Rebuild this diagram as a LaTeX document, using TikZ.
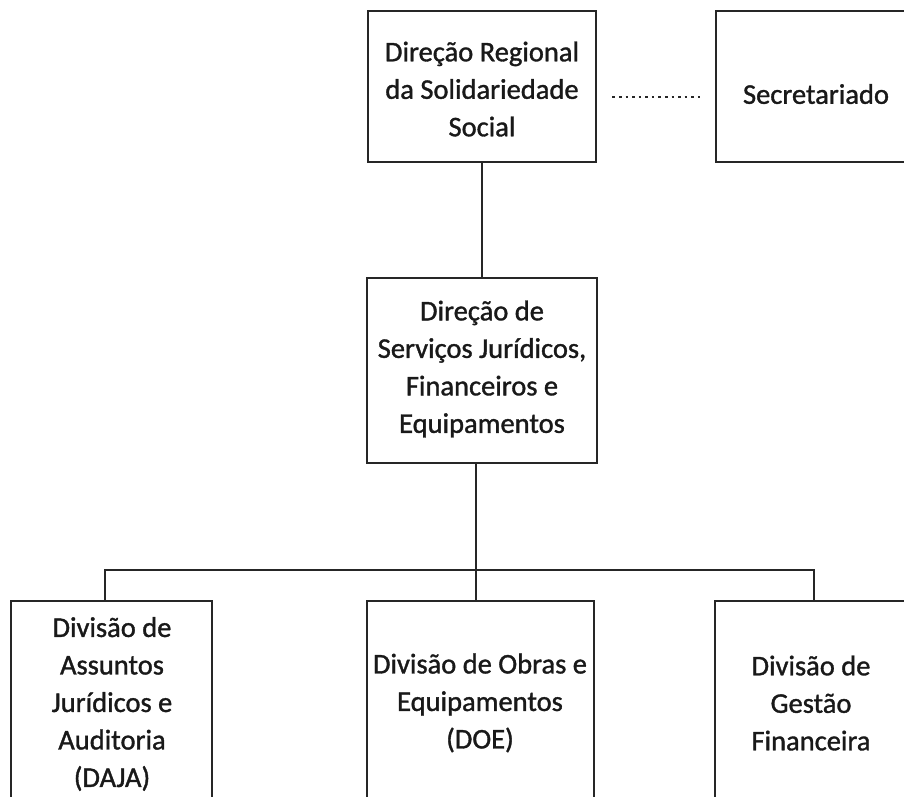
\documentclass[tikz,border=0pt]{standalone}
\usepackage{fontspec}
\setmainfont{Carlito}
\newfontfamily\scanfont[FakeBold=1.2]{Carlito}
\begin{document}
\begin{tikzpicture}[x=1pt,y=-1pt,
  box/.style={draw=black!85, line width=2.8pt, rectangle, inner sep=0pt},
  txt/.style={font=\scanfont\fontsize{28.5}{37.5}\selectfont, align=center, text=black!90, inner sep=0pt},
  conn/.style={draw=black!85, line width=2.6pt, line join=miter},
  dotline/.style={draw=black!85, line width=2.8pt, dash pattern=on 2.6pt off 3.97pt}
]
\useasboundingbox (0,0) rectangle (904,796);
\fill[white] (0,0) rectangle (904,796);

% boxes
\node[box, minimum width=228pt, minimum height=151pt] (A) at (482,86.5) {};
\node[box, minimum width=200pt, minimum height=151pt] (S) at (816,86.5) {};
\node[box, minimum width=230pt, minimum height=185pt] (B) at (482,370.5) {};
\node[box, minimum width=201pt, minimum height=229pt] (C1) at (111.5,715.5) {};
\node[box, minimum width=227pt, minimum height=229pt] (C2) at (480.5,715.5) {};
\node[box, minimum width=198pt, minimum height=229pt] (C3) at (814,715.5) {};

% texts
\node[txt] (At) at (482,89) {Direção Regional\\da Solidariedade\\Social};
\node[txt] (St) at (816,94) {Secretariado};
\node[txt] (Bt) at (482,369) {Direção de\\Serviços Jurídicos,\\Financeiros e\\Equipamentos};
\node[txt] (C1t) at (112,704) {Divisão de\\Assuntos\\Jurídicos e\\Auditoria\\(DAJA)};
\node[txt] (C2t) at (480,703) {Divisão de Obras e\\Equipamentos\\(DOE)};
\node[txt] (C3t) at (811,703) {Divisão de\\Gestão\\Financeira};

% connectors
\coordinate (J) at (476,570);
\coordinate (L) at (105,570);
\coordinate (R) at (814,570);
\draw[conn] (A.south) -- (B.north);
\draw[conn] (B.south -| J) -- (C2.north -| J);
\draw[conn] (C1.north -| L) |- (R) -- (C3.north -| R);
\draw[dotline, shorten <=15pt, shorten >=12pt] ([yshift=-10.5pt]A.east) -- ([yshift=-10.5pt]S.west);
\end{tikzpicture}
\end{document}
